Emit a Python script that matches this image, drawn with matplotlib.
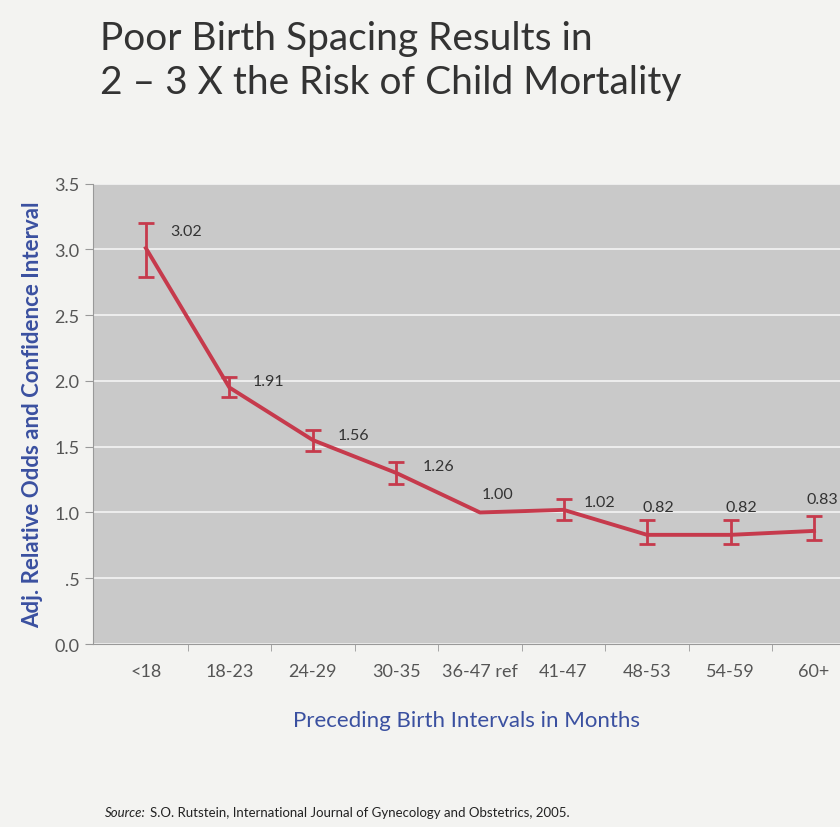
import matplotlib.pyplot as plt
import numpy as np

# data
categories = ['<18', '18-23', '24-29', '30-35', '36-47 ref', '41-47', '48-53', '54-59', '60+']
odds = [3.01, 1.95, 1.55, 1.30, 1.00, 1.02, 0.83, 0.83, 0.86]
ci_low = [2.79, 1.88, 1.47, 1.22, 1.00, 0.94, 0.76, 0.76, 0.79]
ci_high = [3.20, 2.03, 1.63, 1.38, 1.00, 1.10, 0.94, 0.94, 0.97]
point_labels = ['3.02', '1.91', '1.56', '1.26', '1.00', '1.02', '0.82', '0.82', '0.83']
y_ticks = [0.0, 0.5, 1.0, 1.5, 2.0, 2.5, 3.0, 3.5]
y_tick_labels = ['0.0', '.5', '1.0', '1.5', '2.0', '2.5', '3.0', '3.5']

# label offsets in points (dx, dy)
label_offsets = [(29, 12), (28, 5), (29, 4), (30, 5), (13, 13), (26, 6), (8, 20), (8, 20), (6, 23)]

red = '#c63a4c'
blue = '#3a50a0'
font = ['Lato', 'DejaVu Sans']

fig = plt.figure(figsize=(8.4, 8.28), dpi=100)
fig.patch.set_facecolor('#f3f3f1')
ax = fig.add_axes([0.111, 0.221, 0.889, 0.556])
ax.set_facecolor('#c9c9c9')

x = np.arange(len(categories))
odds = np.array(odds)
has_ci = np.array(ci_high) > np.array(ci_low)
yerr = np.array([odds - np.array(ci_low), np.array(ci_high) - odds])

ax.plot(x, odds, color=red, lw=2.8, zorder=3)
ax.errorbar(x[has_ci], odds[has_ci], yerr=yerr[:, has_ci], fmt='none',
            ecolor=red, elinewidth=2, capsize=6, capthick=2, zorder=3)

for xi, yi, txt, off in zip(x, odds, point_labels, label_offsets):
    ax.annotate(txt, (xi, yi), xytext=off, textcoords='offset points',
                ha='center', va='center', fontsize=11.5, color='#333333',
                family=font)

ax.set_xlim(-0.63, 8.31)
ax.set_ylim(0, 3.5)
ax.set_yticks(y_ticks)
ax.set_yticklabels(y_tick_labels, family=font, fontsize=13, color='#555555')
ax.set_xticks(x)
ax.set_xticklabels(categories, family=font, fontsize=13, color='#555555')
ax.set_xticks(x[:-1] + 0.5, minor=True)
ax.tick_params(axis='x', which='major', length=0, pad=14)
ax.tick_params(axis='x', which='minor', length=5, color='#999999')
ax.tick_params(axis='y', length=6, color='#999999', pad=4)

ax.grid(axis='y', color='white', lw=1.2, alpha=0.8)
ax.set_axisbelow(True)
for s in ['top', 'right']:
    ax.spines[s].set_visible(False)
ax.spines['left'].set_color('#999999')
ax.spines['bottom'].set_color('#999999')

ax.set_xlabel('Preceding Birth Intervals in Months', family=font, fontsize=16,
              color=blue, labelpad=22)
ax.set_ylabel('Adj. Relative Odds and Confidence Interval', family=font,
              fontsize=16, color=blue, fontweight='bold', labelpad=8)

fig.text(0.119, 0.975, 'Poor Birth Spacing Results in\n2 \u2013 3 X the Risk of Child Mortality',
         family=font, fontsize=28, color='#333333', va='top', linespacing=1.3)

fig.text(0.125, 0.013, 'Source:', family=font, fontsize=9.5, style='italic', color='#222222')
fig.text(0.178, 0.013, 'S.O. Rutstein, International Journal of Gynecology and Obstetrics, 2005.',
         family=font, fontsize=9.5, color='#222222')

fig.savefig('out.png', dpi=100, facecolor=fig.get_facecolor())
